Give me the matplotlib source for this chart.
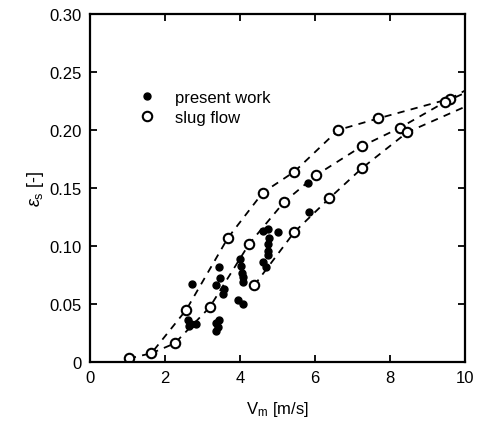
import matplotlib
matplotlib.use("Agg")
import matplotlib.pyplot as plt

plt.rcParams["font.family"] = ["Liberation Sans", "DejaVu Sans"]
plt.rcParams["mathtext.fontset"] = "custom"
plt.rcParams["mathtext.rm"] = "Liberation Sans"
plt.rcParams["mathtext.it"] = "Liberation Sans:italic"

# present work (filled dots)
present_x = [2.72, 2.61, 2.70, 2.83, 2.65, 3.43, 3.48, 3.36, 3.57, 3.54,
             3.36, 3.41, 3.36, 3.43, 4.01, 4.03, 4.05, 4.07, 4.07, 3.94,
             4.07, 4.61, 4.76, 4.78, 4.76, 4.76, 4.76, 5.02, 4.61, 4.69,
             5.82, 5.85]
present_y = [0.067, 0.036, 0.033, 0.033, 0.031, 0.082, 0.072, 0.066, 0.063, 0.059,
             0.034, 0.030, 0.027, 0.036, 0.089, 0.083, 0.077, 0.073, 0.069, 0.053,
             0.050, 0.113, 0.115, 0.107, 0.102, 0.096, 0.092, 0.112, 0.086, 0.082,
             0.154, 0.129]

# slug flow model (open circles), three dashed curves
slug1_x = [1.04, 1.64, 2.57, 3.68, 4.61, 5.45, 6.62, 7.69, 9.61]
slug1_y = [0.003, 0.0075, 0.045, 0.107, 0.146, 0.164, 0.200, 0.210, 0.227]
slug2_x = [2.26, 3.19, 4.25, 5.18, 6.03, 7.25, 8.27, 9.46]
slug2_y = [0.016, 0.047, 0.102, 0.138, 0.161, 0.186, 0.202, 0.224]
slug3_x = [4.38, 5.45, 6.38, 7.25, 8.46]
slug3_y = [0.066, 0.112, 0.141, 0.167, 0.198]

# dashed curves continue to the right edge of the plot
curve1_x = slug1_x + [10.0]
curve1_y = slug1_y + [0.234]
curve2_x = [1.64] + slug2_x + [10.0]
curve2_y = [0.0075] + slug2_y + [0.232]
curve3_x = slug3_x + [10.0]
curve3_y = slug3_y + [0.220]

fig = plt.figure(figsize=(4.78, 4.27), dpi=100)
ax = fig.add_axes([0.188, 0.150, 0.785, 0.815])

for cx, cy in [(curve1_x, curve1_y), (curve2_x, curve2_y), (curve3_x, curve3_y)]:
    ax.plot(cx, cy, color="black", linewidth=1.3, dashes=(4, 3.5), zorder=1)

ax.plot(present_x, present_y, "o", color="black", markersize=5, linestyle="none",
        label="present work", zorder=3)
ax.plot(slug1_x + slug2_x + slug3_x, slug1_y + slug2_y + slug3_y, "o",
        markerfacecolor="white", markeredgecolor="black", markeredgewidth=1.5,
        markersize=6.8, linestyle="none", label="slug flow", zorder=2)

ax.set_xlim(0, 10)
ax.set_ylim(0, 0.30)
ax.set_xticks([0, 2, 4, 6, 8, 10])
ax.set_yticks([0, 0.05, 0.10, 0.15, 0.20, 0.25, 0.30])
ax.set_yticklabels(["0", "0.05", "0.10", "0.15", "0.20", "0.25", "0.30"])
ax.tick_params(direction="in", length=5, width=1.3, top=True, right=True,
               labelsize=12, pad=6)
for s in ax.spines.values():
    s.set_linewidth(1.6)

ax.set_xlabel(r"V$_{\rm m}$ [m/s]", fontsize=12, labelpad=10)
ax.set_ylabel(r"$\epsilon_{\rm s}$ [-]", fontsize=13, labelpad=2)

ax.legend(loc="upper left", bbox_to_anchor=(0.09, 0.825), frameon=False,
          fontsize=12, handletextpad=1.2, labelspacing=0.3, handlelength=1.0)

fig.savefig("out.png", dpi=100)
